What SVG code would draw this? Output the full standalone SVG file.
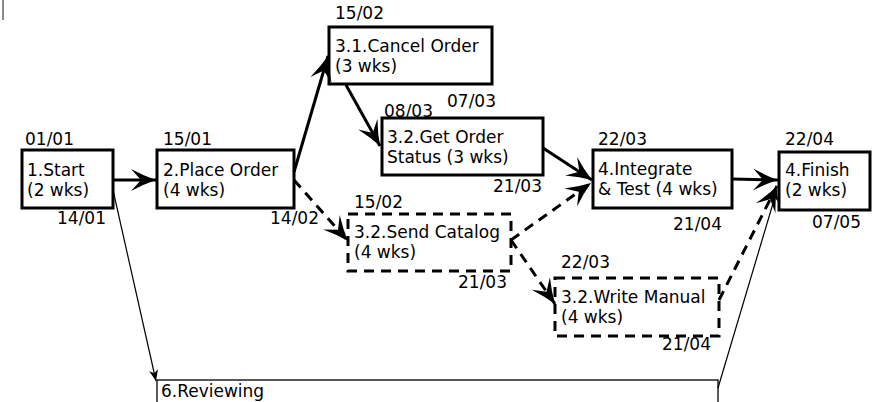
<svg xmlns="http://www.w3.org/2000/svg" width="872" height="402" viewBox="0 0 872 402">
<style>
text{font-family:"DejaVu Sans","Liberation Sans",sans-serif;font-size:17px;fill:#000}
.box{fill:#fff;stroke:#000;stroke-width:3}
.dbox{fill:#fff;stroke:#000;stroke-width:3;stroke-dasharray:10 7}
.thinbox{fill:#fff;stroke:#000;stroke-width:1.3}
.c{fill:none;stroke:#000;stroke-width:3;marker-end:url(#ah)}
.cd{fill:none;stroke:#000;stroke-width:3;stroke-dasharray:10 7;marker-end:url(#ah)}
.ct{fill:none;stroke:#000;stroke-width:1.2;marker-end:url(#ahs)}
</style>
<defs>
<marker id="ah" markerUnits="userSpaceOnUse" viewBox="-26 -12 28 24" refX="0" refY="0" markerWidth="28" markerHeight="24" orient="auto">
<path d="M0,0 Q-12,-4 -25,-11 L-15,0 L-25,11 Q-12,4 0,0Z" fill="#000"/>
</marker>
<marker id="ahs" markerUnits="userSpaceOnUse" viewBox="-12 -6 14 12" refX="0" refY="0" markerWidth="14" markerHeight="12" orient="auto">
<path d="M0,0 L-11,-4.5 L-8,0 L-11,4.5Z" fill="#000"/>
</marker>
</defs>
<line x1="3" y1="0" x2="3" y2="20" stroke="#666" stroke-width="1.5"/>
<g id="n6">
<rect class="thinbox" x="157" y="380" width="561" height="40"/>
<text x="161" y="397">6.Reviewing</text>
</g>
<g id="n1">
<text x="25" y="145">01/01</text>
<text x="57" y="224">14/01</text>
<rect class="box" x="22" y="150" width="91" height="58"/>
<text x="27" y="176">1.Start</text>
<text x="27" y="196">(2 wks)</text>
</g>
<g id="n2">
<text x="163" y="145">15/01</text>
<text x="270" y="224">14/02</text>
<rect class="box" x="157" y="150" width="137" height="58"/>
<text x="163" y="176">2.Place Order</text>
<text x="163" y="196">(4 wks)</text>
</g>
<g id="n31">
<text x="335" y="19">15/02</text>
<rect class="box" x="329" y="27" width="163" height="57"/>
<text x="335" y="52">3.1.Cancel Order</text>
<text x="335" y="72">(3 wks)</text>
</g>
<g id="n32a">
<text x="447" y="107">07/03</text>
<text x="384" y="117">08/03</text>
<text x="493" y="192">21/03</text>
<rect class="box" x="382" y="118" width="161" height="57"/>
<text x="387" y="143">3.2.Get Order</text>
<text x="387" y="163">Status (3 wks)</text>
</g>
<g id="n32b">
<text x="354" y="208">15/02</text>
<text x="458" y="288">21/03</text>
<rect class="dbox" x="348" y="214" width="163" height="57"/>
<text x="354" y="238">3.2.Send Catalog</text>
<text x="354" y="258">(4 wks)</text>
</g>
<g id="n32c">
<text x="561" y="268">22/03</text>
<rect class="dbox" x="555" y="278" width="164" height="58"/>
<text x="662" y="350">21/04</text>
<text x="561" y="303">3.2.Write Manual</text>
<text x="561" y="323">(4 wks)</text>
</g>
<g id="n4">
<text x="598" y="145">22/03</text>
<text x="673" y="230">21/04</text>
<rect class="box" x="593" y="150" width="139" height="58"/>
<text x="598" y="175">4.Integrate</text>
<text x="598" y="195">&amp; Test (4 wks)</text>
</g>
<g id="n5">
<text x="785" y="145">22/04</text>
<text x="812" y="228">07/05</text>
<rect class="box" x="779" y="152" width="91" height="58"/>
<text x="785" y="176">4.Finish</text>
<text x="785" y="196">(2 wks)</text>
</g>
<g id="connectors">
<path class="c" d="M113,180 L156,180"/>
<path class="c" d="M294,172 L328,56"/>
<path class="c" d="M346,85 L380,146"/>
<path class="c" d="M543,148 L592,180"/>
<path class="c" d="M732,179 L778,180"/>
<path class="cd" d="M294,180 L348,241"/>
<path class="cd" d="M511,240 L591,183"/>
<path class="cd" d="M511,240 L555,304"/>
<path class="cd" d="M719,300 L777,186"/>
<path class="ct" d="M113,190 L156,381"/>
<path class="ct" d="M718,388 L777,190"/>
</g>
</svg>
